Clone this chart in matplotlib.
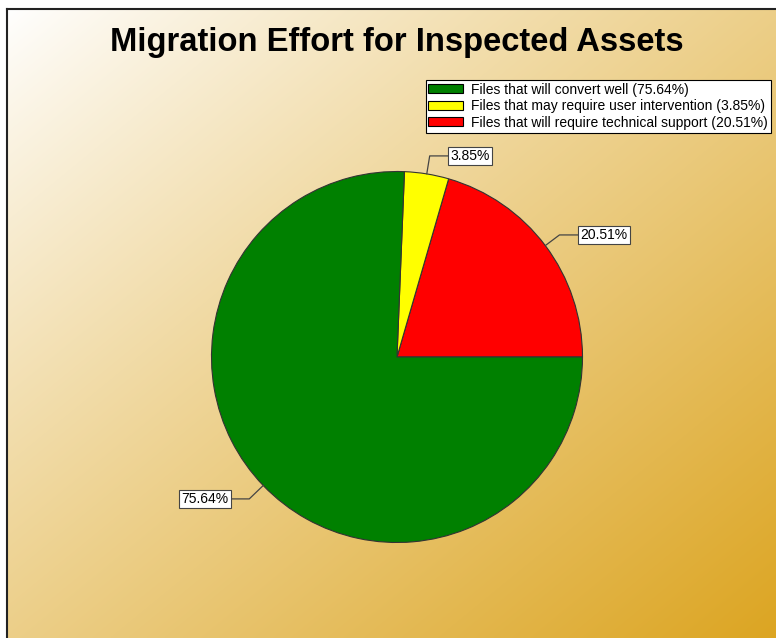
import numpy as np
import matplotlib.pyplot as plt
from matplotlib.patches import Patch
from matplotlib.colors import to_rgb

plt.rcParams['font.family'] = ['Liberation Sans', 'DejaVu Sans']

# DATA SECTION------------------------------------------------------------------
labels = ["Files that will convert well",
          "Files that may require user intervention",
          "Files that will require technical support"]
shares = [75.64, 3.85, 20.51]
colors = ["#008000", "#ffff00", "#ff0000"]
title = "Migration Effort for Inspected Assets"

# pie is drawn counterclockwise from 3 o'clock: red, yellow, then green
order = [2, 1, 0]
label_pos = {0: (-1.035, -0.765), 1: (0.394, 1.084), 2: (1.116, 0.658)}

# FIGURE + GRADIENT BACKGROUND--------------------------------------------------
W, H = 776, 638
fig = plt.figure(figsize=(W/100, H/100), dpi=100)
fig.patch.set_facecolor("white")

bg = fig.add_axes([7/W, 0, 1 - 7/W, 1 - 9/H])
n = 300
u, v = np.meshgrid(np.linspace(0, 1, n), np.linspace(0, 1, n))
t = np.clip((u + v) / 2.0, 0, 1) ** 0.9
c0 = np.array([1.0, 1.0, 1.0])
c1 = np.array(to_rgb("#dca522"))
img = c0[None, None, :] * (1 - t[..., None]) + c1[None, None, :] * t[..., None]
bg.imshow(img, aspect="auto", extent=[0, 1, 1, 0], interpolation="bilinear")
bg.set_xticks([]); bg.set_yticks([])
for s in ["right", "bottom"]:
    bg.spines[s].set_visible(False)
for s in ["top", "left"]:
    bg.spines[s].set_linewidth(1.5)
    bg.spines[s].set_color("#222222")

fig.text(397/W, 1 - 42/H, title, ha="center", va="center",
         fontsize=23.6, fontweight="bold")

# PIE SECTION-------------------------------------------------------------------
R = 185.5
cx, cy = 397, 357
ax = fig.add_axes([(cx - 2*R)/W, (H - cy - 2*R)/H, 4*R/W, 4*R/H])
ax.axis("off")

vals = [shares[i] for i in order]
cols = [colors[i] for i in order]
wedges, _ = ax.pie(vals, colors=cols, startangle=0, counterclock=True,
                   radius=1.0, wedgeprops=dict(edgecolor="#333333", linewidth=0.8))
ax.set_xlim(-2, 2); ax.set_ylim(-2, 2)
ax.set_aspect("equal")

for w, i in zip(wedges, order):
    ang = np.deg2rad((w.theta1 + w.theta2) / 2)
    xy = (np.cos(ang), np.sin(ang))
    ax.annotate("%.2f%%" % shares[i], xy=xy, xytext=label_pos[i],
                ha="center", va="center", fontsize=10,
                bbox=dict(boxstyle="square,pad=0.15", fc="white",
                          ec="#444444", lw=0.8),
                arrowprops=dict(arrowstyle="-", color="#444444", lw=0.9,
                                shrinkA=0, shrinkB=0,
                                connectionstyle="angle,angleA=0,angleB=%f"
                                % np.rad2deg(ang)))

# LEGEND SECTION----------------------------------------------------------------
handles = [Patch(facecolor=colors[i], edgecolor="black", linewidth=0.8,
                 label="%s (%.2f%%)" % (labels[i], shares[i])) for i in range(3)]
leg = fig.legend(handles=handles, loc="upper right",
                 bbox_to_anchor=(771/W, 1 - 80/H), fontsize=10,
                 frameon=True, fancybox=False, framealpha=1,
                 borderpad=0.2, labelspacing=0.18, handlelength=2.5,
                 handleheight=0.6, handletextpad=0.6, borderaxespad=0)
leg.get_frame().set_edgecolor("black")
leg.get_frame().set_linewidth(0.8)

fig.savefig("out.png", dpi=100)
